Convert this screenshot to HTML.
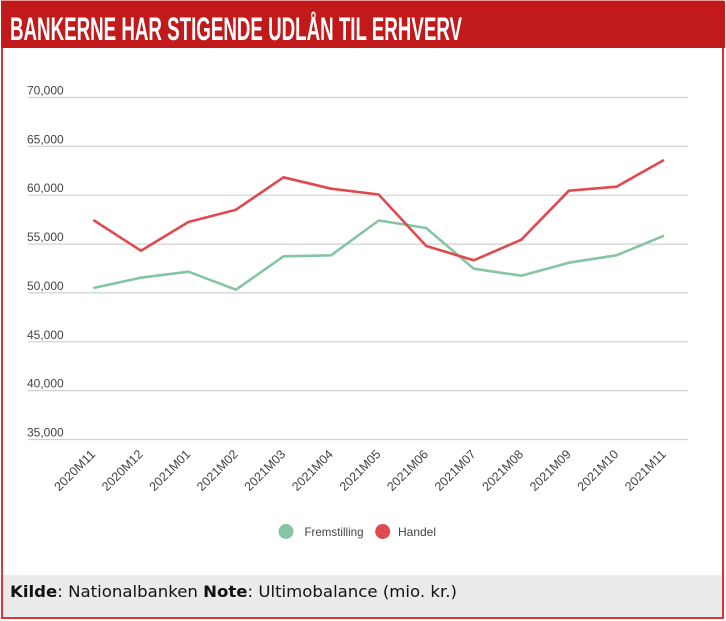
<!DOCTYPE html>
<html>
<head>
<meta charset="utf-8">
<style>
  html, body { margin: 0; padding: 0; background: #ffffff; }
  svg { display: block; }
</style>
</head>
<body>
<svg width="726" height="621" viewBox="0 0 726 621" xmlns="http://www.w3.org/2000/svg">
  <rect x="0" y="0" width="726" height="621" fill="#ffffff"/>
  <!-- frame -->
  <rect x="2" y="1.5" width="721" height="616.5" fill="#ffffff" stroke="#d8363a" stroke-width="2"/>
  <!-- header -->
  <rect x="1" y="1" width="724" height="47" fill="#c2191b"/>
  <text x="10" y="40" font-family="Liberation Sans, sans-serif" font-weight="bold" font-size="32" fill="#ffffff" textLength="452" lengthAdjust="spacingAndGlyphs">BANKERNE HAR STIGENDE UDLÅN TIL ERHVERV</text>

  <!-- gridlines -->
  <g stroke="#d0d0d0" stroke-width="1.2">
    <line x1="28" y1="97.5" x2="688" y2="97.5"/>
    <line x1="28" y1="146.4" x2="688" y2="146.4"/>
    <line x1="28" y1="195.2" x2="688" y2="195.2"/>
    <line x1="28" y1="244.1" x2="688" y2="244.1"/>
    <line x1="28" y1="292.9" x2="688" y2="292.9"/>
    <line x1="28" y1="341.8" x2="688" y2="341.8"/>
    <line x1="28" y1="390.6" x2="688" y2="390.6"/>
    <line x1="28" y1="439.5" x2="688" y2="439.5"/>
  </g>
  <!-- y labels -->
  <g font-family="Liberation Sans, sans-serif" font-size="12" fill="#444444">
    <text x="27" y="94.5">70,000</text>
    <text x="27" y="143.4">65,000</text>
    <text x="27" y="192.2">60,000</text>
    <text x="27" y="241.1">55,000</text>
    <text x="27" y="289.9">50,000</text>
    <text x="27" y="338.8">45,000</text>
    <text x="27" y="387.6">40,000</text>
    <text x="27" y="436.5">35,000</text>
  </g>

  <!-- series -->
  <polyline fill="none" stroke="#86c5a4" stroke-width="2.6" stroke-linejoin="round"
    points="93.3,288 140.9,277.7 188.4,271.7 236,289.7 283.5,256.3 331.1,255.3 378.7,220.5 426.2,228 473.8,268.7 521.3,275.7 568.9,262.7 616.5,255.3 664,235.7"/>
  <polyline fill="none" stroke="#df4a4f" stroke-width="2.6" stroke-linejoin="round"
    points="93.3,220 140.9,250.7 188.4,222 236,209.7 283.5,177.3 331.1,188.7 378.7,194.5 426.2,246 473.8,260.3 521.3,239.7 568.9,190.7 616.5,186.7 664,160"/>

  <!-- x labels -->
  <g font-family="Liberation Sans, sans-serif" font-size="12.5" fill="#444444" text-anchor="end">
    <text transform="translate(96,455) rotate(-45)" textLength="52" lengthAdjust="spacingAndGlyphs">2020M11</text>
    <text transform="translate(143.6,455) rotate(-45)" textLength="52" lengthAdjust="spacingAndGlyphs">2020M12</text>
    <text transform="translate(191.1,455) rotate(-45)" textLength="52" lengthAdjust="spacingAndGlyphs">2021M01</text>
    <text transform="translate(238.7,455) rotate(-45)" textLength="52" lengthAdjust="spacingAndGlyphs">2021M02</text>
    <text transform="translate(286.2,455) rotate(-45)" textLength="52" lengthAdjust="spacingAndGlyphs">2021M03</text>
    <text transform="translate(333.8,455) rotate(-45)" textLength="52" lengthAdjust="spacingAndGlyphs">2021M04</text>
    <text transform="translate(381.4,455) rotate(-45)" textLength="52" lengthAdjust="spacingAndGlyphs">2021M05</text>
    <text transform="translate(428.9,455) rotate(-45)" textLength="52" lengthAdjust="spacingAndGlyphs">2021M06</text>
    <text transform="translate(476.5,455) rotate(-45)" textLength="52" lengthAdjust="spacingAndGlyphs">2021M07</text>
    <text transform="translate(524,455) rotate(-45)" textLength="52" lengthAdjust="spacingAndGlyphs">2021M08</text>
    <text transform="translate(571.6,455) rotate(-45)" textLength="52" lengthAdjust="spacingAndGlyphs">2021M09</text>
    <text transform="translate(619.2,455) rotate(-45)" textLength="52" lengthAdjust="spacingAndGlyphs">2021M10</text>
    <text transform="translate(666.7,455) rotate(-45)" textLength="52" lengthAdjust="spacingAndGlyphs">2021M11</text>
  </g>

  <!-- legend -->
  <circle cx="286" cy="531.5" r="7.5" fill="#86c5a4"/>
  <text x="304.5" y="536" font-family="Liberation Sans, sans-serif" font-size="12" fill="#444444" textLength="59" lengthAdjust="spacingAndGlyphs">Fremstilling</text>
  <circle cx="382.7" cy="531.5" r="7.5" fill="#df4a4f"/>
  <text x="398" y="536" font-family="Liberation Sans, sans-serif" font-size="12" fill="#444444" textLength="38" lengthAdjust="spacingAndGlyphs">Handel</text>

  <!-- footer -->
  <rect x="3" y="575" width="719" height="42" fill="#ebebeb"/>
  <text x="10" y="597" font-family="DejaVu Sans, Liberation Sans, sans-serif" font-size="16" fill="#111111" textLength="447" lengthAdjust="spacingAndGlyphs"><tspan font-weight="bold">Kilde</tspan>: Nationalbanken <tspan font-weight="bold">Note</tspan>: Ultimobalance (mio. kr.)</text>
</svg>
</body>
</html>
